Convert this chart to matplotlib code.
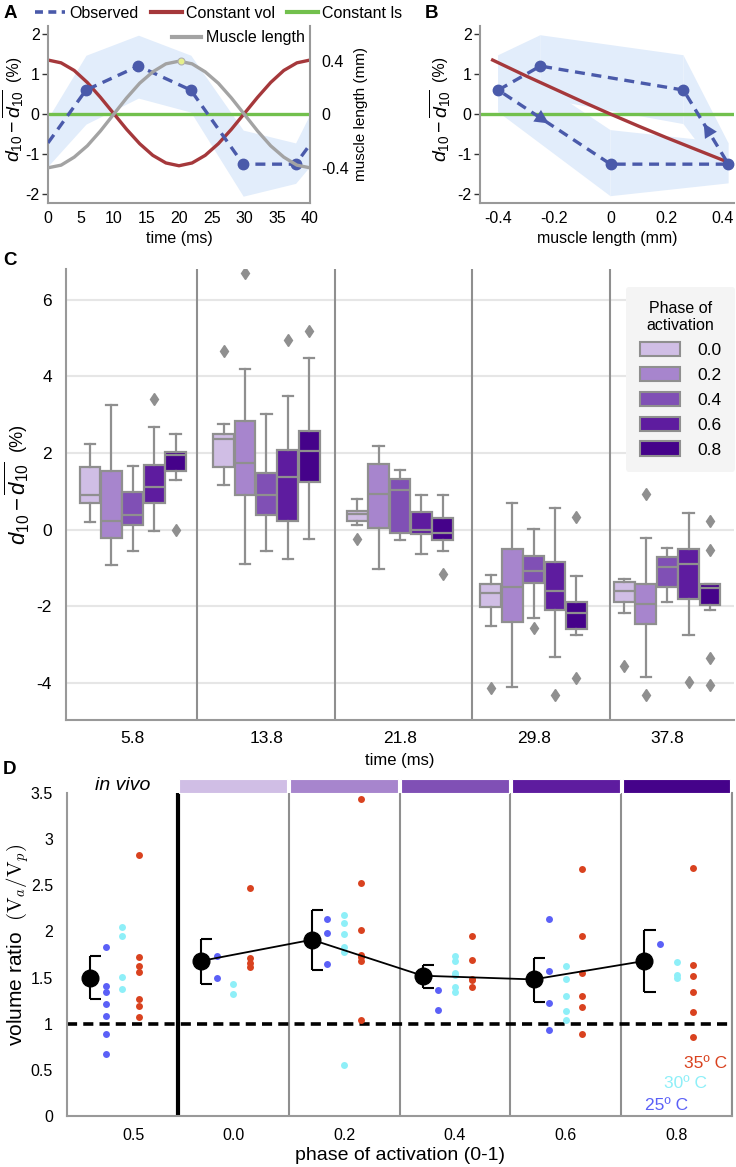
import numpy as np
import matplotlib
matplotlib.use('Agg')
import matplotlib.pyplot as plt
from matplotlib.patches import Patch, Rectangle
from matplotlib.lines import Line2D

plt.rcParams['font.family'] = ['Liberation Sans', 'DejaVu Sans']
plt.rcParams['mathtext.fontset'] = 'custom'
plt.rcParams['mathtext.rm'] = 'Liberation Sans'
plt.rcParams['mathtext.it'] = 'Liberation Sans:italic'
plt.rcParams['mathtext.bf'] = 'Liberation Sans:bold'
plt.rcParams['axes.unicode_minus'] = False

# ---------------- data ----------------
# Panel A / B : observed thickness change
obs_t = [5.8, 13.8, 21.8, 29.8, 37.8]
obs_val = [0.6, 1.2, 0.6, -1.25, -1.25]
obs_hi = [1.47, 1.97, 1.47, -0.40, -0.72]
obs_lo = [-0.25, 0.40, 0.05, -2.05, -1.73]
edge_t = [0, 40]
edge_val = [-0.72, -0.76]
edge_hi = [-0.10, 0.0]
edge_lo = [-1.30, -1.30]
# theoretical curves (every 2 ms)
time_grid = [0, 2, 4, 6, 8, 10, 12, 14, 16, 18, 20, 22, 24, 26, 28, 30, 32, 34, 36, 38, 40]
const_vol = [1.35, 1.28, 1.09, 0.79, 0.42, 0.02, -0.38, -0.74, -1.03, -1.22, -1.29,
             -1.22, -1.03, -0.74, -0.38, 0.02, 0.42, 0.79, 1.09, 1.28, 1.35]
muscle_len = [-0.40, -0.38, -0.32, -0.235, -0.124, 0.0, 0.124, 0.235, 0.32, 0.38, 0.40,
              0.38, 0.32, 0.235, 0.124, 0.0, -0.124, -0.235, -0.32, -0.38, -0.40]
peak_t, peak_len = 20.3, 0.40
# panel B
obs_ml = [0.26, -0.25, -0.40, 0.0, 0.42]
cv_ml = [-0.42, -0.3, -0.2, -0.1, 0.0, 0.1, 0.2, 0.3, 0.44]
cv_val = [1.35, 0.95, 0.63, 0.31, 0.0, -0.30, -0.59, -0.87, -1.26]

# Panel C : box statistics [time group][phase]
C_times = ['5.8', '13.8', '21.8', '29.8', '37.8']
phases = ['0.0', '0.2', '0.4', '0.6', '0.8']
C_whishi = [[2.23, 3.25, 1.67, 2.67, 2.50], [2.76, 4.19, 3.02, 3.49, 4.49],
            [0.81, 2.17, 1.56, 0.89, 0.90], [-1.18, 0.69, 0.02, 0.57, -1.21],
            [-1.28, -0.21, -0.49, 0.43, -1.42]]
C_q3 = [[1.63, 1.53, 0.97, 1.68, 2.03], [2.50, 2.83, 1.47, 2.08, 2.58],
        [0.49, 1.70, 1.31, 0.45, 0.30], [-1.42, -0.52, -0.69, -0.85, -1.90],
        [-1.36, -1.43, -0.72, -0.52, -1.42]]
C_med = [[0.91, 0.23, 0.37, 1.10, 1.95], [2.36, 1.74, 0.91, 1.37, 2.05],
         [0.41, 0.93, 1.02, 0.00, -0.08], [-1.65, -1.51, -1.07, -1.60, -2.17],
         [-1.60, -1.93, -0.99, -0.90, -1.53]]
C_q1 = [[0.69, -0.21, 0.13, 0.70, 1.53], [1.64, 0.91, 0.37, 0.23, 1.25],
        [0.23, 0.03, -0.08, -0.11, -0.27], [-2.01, -2.40, -1.40, -2.11, -2.59],
        [-1.90, -2.47, -1.49, -1.80, -1.97]]
C_whislo = [[0.19, -0.92, -0.57, -0.04, 1.30], [1.17, -0.90, -0.57, -0.77, -0.25],
            [0.13, -1.03, -0.26, -0.64, -0.57], [-2.51, -4.10, -2.30, -3.32, -2.76],
            [-2.19, -3.85, -1.88, -2.76, -2.11]]
C_fliers = [[[], [], [], [3.40], [0.0]],
            [[4.67], [6.70], [], [4.94], [5.18]],
            [[-0.25], [], [], [], [-1.16]],
            [[-4.14], [], [-2.57], [-4.33], [0.34, -3.88]],
            [[-3.55], [0.93, -4.33], [], [-3.99], [0.23, -0.53, -3.36, -4.05]]]

# Panel D : volume ratio
D_cats = ['0.5', '0.0', '0.2', '0.4', '0.6', '0.8']
D_25 = [[1.83, 1.41, 1.34, 1.21, 1.08, 0.89, 0.67], [1.73, 1.49], [2.14, 1.98, 1.65],
        [1.36, 1.15], [2.13, 1.57, 1.22, 0.93], [1.86]]
D_30 = [[2.05, 1.95, 1.51, 1.38], [1.43, 1.32], [2.18, 2.09, 1.97, 1.83, 1.78, 0.55],
        [1.73, 1.68, 1.55, 1.53, 1.40, 1.34], [1.63, 1.48, 1.30, 1.14, 1.04], [1.67, 1.53, 1.50]]
D_35 = [[2.83, 1.72, 1.63, 1.56, 1.27, 1.19, 1.07], [2.47, 1.71, 1.66, 1.61],
        [3.43, 2.52, 2.02, 1.75, 1.72, 1.68, 1.04], [1.95, 1.69, 1.48, 1.47, 1.40],
        [2.68, 1.95, 1.55, 1.30, 1.18, 0.89], [2.69, 1.64, 1.52, 1.34, 1.13, 0.86]]
D_mean = [1.50, 1.68, 1.91, 1.52, 1.48, 1.68]
D_err_hi = [1.73, 1.92, 2.23, 1.64, 1.71, 2.02]
D_err_lo = [1.27, 1.43, 1.58, 1.39, 1.24, 1.34]

# ---------------- style ----------------
BLUE = '#4a5aaa'
RED = '#a5383b'
GREEN = '#72c04d'
GRAY = '#a3a3a3'
BAND = '#e2edfb'
YELLOW = '#e6f08c'
SPINE = '#999999'
PAL = ['#d0bee5', '#a785cd', '#8050b5', '#5e1c9f', '#45028a']
EDGE = '#8f8f8f'
C25, C30, C35 = '#5b60f7', '#8eeff8', '#d9421f'

W, H = 736, 1167
fig = plt.figure(figsize=(W / 100, H / 100), dpi=100)


def add_ax(box):
    l, t, r, b = box
    return fig.add_axes([l / W, 1 - b / H, (r - l) / W, (b - t) / H])


def fx(box, xpx):
    l, t, r, b = box
    return (xpx - l) / (r - l)


def fy(box, ypx):
    l, t, r, b = box
    return (b - ypx) / (b - t)


def style_spines(ax, show=('left', 'bottom')):
    for s in ax.spines:
        if s in show:
            ax.spines[s].set_color(SPINE)
            ax.spines[s].set_linewidth(1.5)
        else:
            ax.spines[s].set_visible(False)


ylab_math = r'$d_{10} - \overline{d_{10}}$'


def d_ylabel(ax, box, xpx, y_math, y_pct, fs_math, fs_pct):
    ax.set_ylabel(ylab_math, fontsize=fs_math, va='center')
    ax.yaxis.set_label_coords(fx(box, xpx), fy(box, y_math))
    ax.text(fx(box, xpx), fy(box, y_pct), '(%)', fontsize=fs_pct, rotation=90,
            ha='center', va='center', transform=ax.transAxes, clip_on=False)


# ---------------- Panel A ----------------
boxA = (48, 26, 310, 203)
axA = add_ax(boxA)
tA = edge_t[:1] + obs_t + edge_t[1:]
axA.fill_between(tA, edge_lo[:1] + obs_lo + edge_lo[1:], edge_hi[:1] + obs_hi + edge_hi[1:],
                 color=BAND, lw=0, zorder=0)
axA.axhline(0, color=GREEN, lw=2.4, zorder=1)
axA.plot(time_grid, const_vol, color=RED, lw=2.4, zorder=2)
axA.plot(tA, edge_val[:1] + obs_val + edge_val[1:], color=BLUE, lw=2.4, ls=(0, (3, 2)), zorder=3)
axA.plot(obs_t, obs_val, 'o', color=BLUE, ms=7.5, zorder=4)
axA.set_xlim(0, 40)
axA.set_ylim(-2.22, 2.2)
axA.set_xticks(range(0, 41, 5))
axA.set_yticks([-2, -1, 0, 1, 2])
axA.tick_params(axis='y', direction='out', length=4, width=1, color='#333333', labelsize=11.5, pad=2)
axA.tick_params(axis='x', length=0, labelsize=11.5, pad=6)
style_spines(axA)
axA.set_xlabel('time (ms)', fontsize=11.5, va='center')
axA.xaxis.set_label_coords(0.5, fy(boxA, 239))
d_ylabel(axA, boxA, 13, 126, 68, 14, 11.5)

axA2 = axA.twinx()
axA2.plot(time_grid, muscle_len, color=GRAY, lw=2.4, zorder=2)
axA2.plot([peak_t], [peak_len], 'o', color=YELLOW, mec='#b0b0b0', mew=0.8, ms=5, zorder=3)
axA2.set_ylim(-0.664, 0.664)
axA2.set_yticks([-0.4, 0, 0.4])
axA2.set_yticklabels(['-0.4', '0', '0.4'])
axA2.tick_params(axis='y', length=0, labelsize=11.5, pad=8)
style_spines(axA2, show=('right',))
axA2.set_ylabel('muscle length (mm)', fontsize=11, va='center')
axA2.yaxis.set_label_coords(fx(boxA, 361), 0.5)
axA2.legend(handles=[Line2D([], [], color=GRAY, lw=3)], labels=['Muscle length'],
            loc='center left', bbox_to_anchor=(fx(boxA, 172), fy(boxA, 38)), frameon=False,
            fontsize=11.5, handlelength=1.8, handletextpad=0.3, borderpad=0, borderaxespad=0)

fig.legend(handles=[Line2D([], [], color=BLUE, lw=2.6, ls=(0, (2.2, 1.5))),
                    Line2D([], [], color=RED, lw=3), Line2D([], [], color=GREEN, lw=3)],
           labels=['Observed', 'Constant vol', 'Constant ls'], ncol=3,
           loc='center left', bbox_to_anchor=(35 / W, 1 - 13 / H), frameon=False, fontsize=11.5,
           handlelength=1.9, handletextpad=0.25, columnspacing=0.8, borderpad=0, borderaxespad=0)

# ---------------- Panel B ----------------
boxB = (480, 26, 734, 203)
axB = add_ax(boxB)
n = len(obs_ml)
for i in range(n):
    j = (i + 1) % n
    axB.fill([obs_ml[i], obs_ml[i], obs_ml[j], obs_ml[j]],
             [obs_lo[i], obs_hi[i], obs_hi[j], obs_lo[j]], color=BAND, lw=0, zorder=0)
axB.axhline(0, color=GREEN, lw=2.4, zorder=1)
axB.plot(cv_ml, cv_val, color=RED, lw=2.4, zorder=2)
axB.plot(obs_ml + obs_ml[:1], obs_val + obs_val[:1], color=BLUE, lw=2.4, ls=(0, (3, 2)), zorder=3)
axB.plot(obs_ml, obs_val, 'o', color=BLUE, ms=7.5, zorder=4)
for i, frac in [(2, 0.45), (4, 0.55)]:
    j = (i + 1) % n
    p0 = (obs_ml[i] + (obs_ml[j] - obs_ml[i]) * (frac - 0.12), obs_val[i] + (obs_val[j] - obs_val[i]) * (frac - 0.12))
    p1 = (obs_ml[i] + (obs_ml[j] - obs_ml[i]) * frac, obs_val[i] + (obs_val[j] - obs_val[i]) * frac)
    axB.annotate('', xy=p1, xytext=p0,
                 arrowprops=dict(arrowstyle='-|>,head_length=1.0,head_width=0.5', color=BLUE,
                                 lw=0.01, shrinkA=0, shrinkB=0), zorder=5)
axB.set_xlim(-0.465, 0.44)
axB.set_ylim(-2.22, 2.2)
axB.set_xticks([-0.4, -0.2, 0, 0.2, 0.4])
axB.set_xticklabels(['-0.4', '-0.2', '0', '0.2', '0.4'])
axB.set_yticks([-2, -1, 0, 1, 2])
axB.tick_params(axis='y', direction='out', length=4, width=1, color='#333333', labelsize=11.5, pad=2)
axB.tick_params(axis='x', length=0, labelsize=11.5, pad=6)
style_spines(axB)
axB.set_xlabel('muscle length (mm)', fontsize=11.5, va='center')
axB.xaxis.set_label_coords(0.5, fy(boxB, 239))
d_ylabel(axB, boxB, 440, 126, 68, 14, 11.5)

# ---------------- Panel C ----------------
boxC = (66, 269, 734, 720)
axC = add_ax(boxC)
for yv in range(-4, 7, 2):
    axC.axhline(yv, color='#e6e6e6', lw=1.5, zorder=0)
for xv in [0.48, 1.51, 2.54, 3.57]:
    axC.axvline(xv, color=EDGE, lw=1.5, zorder=1)
for gi in range(len(C_times)):
    stats = [dict(med=C_med[gi][pi], q1=C_q1[gi][pi], q3=C_q3[gi][pi],
                  whislo=C_whislo[gi][pi], whishi=C_whishi[gi][pi], fliers=C_fliers[gi][pi])
             for pi in range(len(phases))]
    pos = [gi + (pi - 2) * 0.16 for pi in range(len(phases))]
    bp = axC.bxp(stats, positions=pos, widths=0.155, patch_artist=True, manage_ticks=False,
                 boxprops=dict(edgecolor=EDGE, linewidth=1.6),
                 medianprops=dict(color=EDGE, linewidth=1.6),
                 whiskerprops=dict(color=EDGE, linewidth=1.6),
                 capprops=dict(color=EDGE, linewidth=1.6),
                 flierprops=dict(marker='d', markerfacecolor=EDGE, markeredgecolor=EDGE, markersize=6.5))
    for patch, c in zip(bp['boxes'], PAL):
        patch.set_facecolor(c)
        patch.set_zorder(2)
axC.set_xlim(-0.5, 4.5)
axC.set_ylim(-4.97, 6.8)
axC.set_xticks(range(len(C_times)))
axC.set_xticklabels(C_times)
axC.set_yticks(range(-4, 7, 2))
axC.tick_params(axis='both', length=0, labelsize=12.5)
axC.tick_params(axis='x', pad=8)
axC.tick_params(axis='y', pad=10)
style_spines(axC)
axC.set_xlabel('time (ms)', fontsize=12, va='center')
axC.xaxis.set_label_coords(0.5, fy(boxC, 760))
d_ylabel(axC, boxC, 17, 503, 437, 16, 13)
leg = axC.legend(handles=[Patch(facecolor=c, edgecolor=EDGE, linewidth=1.5) for c in PAL],
                 labels=phases, title='Phase of\nactivation', loc='upper right',
                 bbox_to_anchor=(fx(boxC, 735), fy(boxC, 287)), fontsize=12.5, title_fontsize=11.5,
                 frameon=True, facecolor='#f4f4f4', edgecolor='none', framealpha=1, fancybox=True,
                 handlelength=2.3, handleheight=0.9, handletextpad=1.0, labelspacing=0.5,
                 borderpad=0.8, borderaxespad=0)
leg.get_title().set_multialignment('center')

# ---------------- Panel D ----------------
boxD = (67, 793, 732, 1116)
axD = add_ax(boxD)
centers = [-1.0, 0, 1, 2, 3, 4]
for xv in [0.5, 1.5, 2.5, 3.5, 4.5]:
    axD.axvline(xv, color=EDGE, lw=1.5, zorder=0)
axD.axvline(-0.5, color='black', lw=3, zorder=1)
axD.axhline(1, color='black', lw=2.6, ls=(0, (2.8, 1.7)), zorder=2)
for ci, c in enumerate(centers):
    axD.plot([c - 0.15] * len(D_25[ci]), D_25[ci], 'o', color=C25, ms=5, mew=0, zorder=3)
    axD.plot([c] * len(D_30[ci]), D_30[ci], 'o', color=C30, ms=5, mew=0, zorder=3)
    axD.plot([c + 0.15] * len(D_35[ci]), D_35[ci], 'o', color=C35, ms=5, mew=0, zorder=3)
mx = [c - 0.29 for c in centers]
axD.vlines(mx, D_err_lo, D_err_hi, color='black', lw=1.5, zorder=4)
axD.hlines(D_err_lo, mx, [m + 0.1 for m in mx], color='black', lw=1.5, zorder=4)
axD.hlines(D_err_hi, mx, [m + 0.1 for m in mx], color='black', lw=1.5, zorder=4)
axD.plot(mx[1:], D_mean[1:], color='black', lw=1.3, zorder=4)
axD.plot(mx, D_mean, 'o', color='black', ms=12, zorder=5)
for pi in range(len(phases)):
    axD.add_patch(Rectangle((pi - 0.5 + 0.015, 3.5), 0.97, 0.152, facecolor=PAL[pi],
                            edgecolor='white', lw=0.8, clip_on=False, zorder=6))
axD.text(-1.0, 3.585, 'in vivo', fontsize=14, style='italic', ha='center', va='center')
axD.set_xlim(-1.5, 4.5)
axD.set_ylim(0, 3.5)
axD.set_xticks([-0.9, 0, 1, 2, 3, 4])
axD.set_xticklabels(D_cats)
axD.set_yticks([0, 0.5, 1, 1.5, 2, 2.5, 3, 3.5])
axD.set_yticklabels(['0', '0.5', '1', '1.5', '2', '2.5', '3', '3.5'])
axD.tick_params(axis='both', length=0, labelsize=11.5)
axD.tick_params(axis='x', pad=9)
axD.tick_params(axis='y', pad=10)
style_spines(axD)
axD.spines['right'].set_visible(True)
axD.spines['right'].set_color(EDGE)
axD.spines['right'].set_linewidth(1.5)
axD.set_xlabel('phase of activation (0-1)', fontsize=14, va='center')
axD.xaxis.set_label_coords(0.5, fy(boxD, 1156))
axD.set_ylabel(r'volume ratio  $(\mathrm{V}_a/\mathrm{V}_p)$', fontsize=15, va='center',
               math_fontfamily='cm')
axD.yaxis.set_label_coords(fx(boxD, 18), fy(boxD, 945))
for txt, col, yp, xr in [('35º C', C35, 1063, 727), ('30º C', C30, 1084, 707), ('25º C', C25, 1105, 688)]:
    axD.text(fx(boxD, xr), fy(boxD, yp), txt, color=col, fontsize=12.5, ha='right', va='center',
             transform=axD.transAxes)

# ---------------- panel letters ----------------
for letter, xp, yp in [('A', 4, 13), ('B', 425, 13), ('C', 3, 260), ('D', 3, 770)]:
    fig.text(xp / W, 1 - yp / H, letter, fontsize=13.5, fontweight='bold', ha='left', va='center')

fig.savefig('out.png', dpi=100)
